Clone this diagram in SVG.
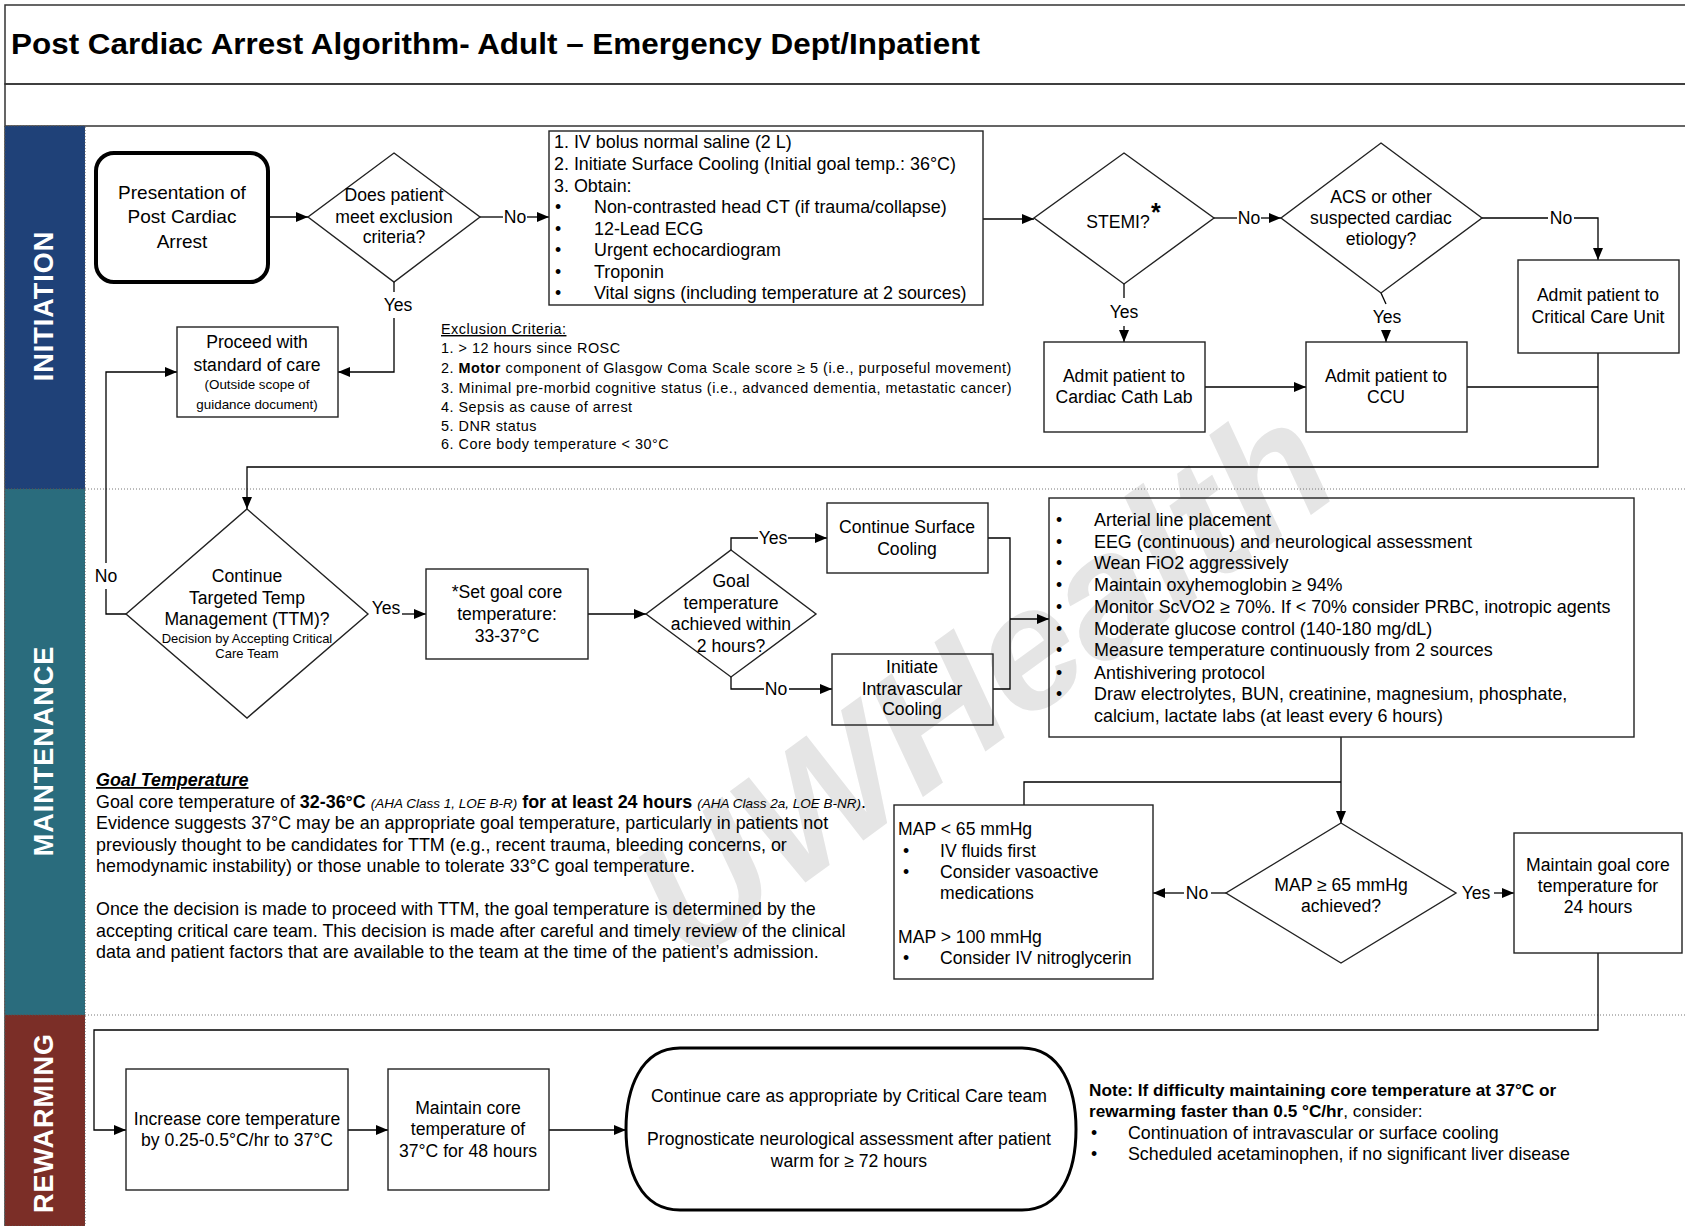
<svg xmlns="http://www.w3.org/2000/svg" width="1685" height="1226" viewBox="0 0 1685 1226">
<style>
text{font-family:"Liberation Sans",Arial,sans-serif;fill:#000}
.t{font-size:17.6px}
.s{font-size:14.4px;letter-spacing:0.5px}
.xs{font-size:13px}
.c{text-anchor:middle}
.b{font-weight:bold}
.g{font-size:17.9px}
.box{fill:none;stroke:#222;stroke-width:1.4}
.ln{fill:none;stroke:#000;stroke-width:1.3}
.lane{font-size:27px;font-weight:bold;fill:#fff;text-anchor:middle;letter-spacing:1px}
.sep{stroke:#777;stroke-width:1;stroke-dasharray:1 2}
</style>
<defs>
<marker id="ah" viewBox="0 0 12 10" refX="12" refY="5" markerWidth="12" markerHeight="10" orient="auto" markerUnits="userSpaceOnUse"><path d="M0,0 L12,5 L0,10 z" fill="#000"/></marker>
</defs>
<rect x="0" y="0" width="1685" height="1226" fill="#fff"/>
<!-- watermark -->
<text x="982" y="740" transform="rotate(-36 982 680)" style="font-size:172px;font-weight:bold;font-style:italic;fill:#e5e5e5" text-anchor="middle">UWHealth</text>

<!-- frame -->
<g id="frame">
<rect x="5" y="5" width="1700" height="79" fill="none" stroke="#333" stroke-width="1.5"/>
<rect x="5" y="84" width="1700" height="42" fill="none" stroke="#333" stroke-width="1.5"/>
<line x1="5" y1="126" x2="5" y2="1226" stroke="#333" stroke-width="1.5"/>
<text x="11" y="54" class="b" style="font-size:29px" textLength="969" lengthAdjust="spacingAndGlyphs">Post Cardiac Arrest Algorithm- Adult – Emergency Dept/Inpatient</text>
</g>
<g id="lanes">
<rect x="5" y="126" width="80" height="363" fill="#1F4178" stroke="#555" stroke-dasharray="1 2"/>
<rect x="5" y="489" width="80" height="526" fill="#2A6C7D" stroke="#555" stroke-dasharray="1 2"/>
<rect x="5" y="1015" width="80" height="211" fill="#7B2E27" stroke="#555" stroke-dasharray="1 2"/>
<line x1="85" y1="489" x2="1685" y2="489" class="sep"/>
<line x1="85" y1="1015" x2="1685" y2="1015" class="sep"/>
<text class="lane" transform="translate(53 306) rotate(-90)">INITIATION</text>
<text class="lane" transform="translate(53 751) rotate(-90)">MAINTENANCE</text>
<text class="lane" transform="translate(53 1123) rotate(-90)">REWARMING</text>
</g>

<!-- connectors -->
<g id="connectors" class="ln">
<line x1="268" y1="217" x2="308" y2="217" marker-end="url(#ah)"/>
<line x1="480" y1="217" x2="503" y2="217"/>
<line x1="527" y1="217" x2="549" y2="217" marker-end="url(#ah)"/>
<polyline points="394,282 394,292"/>
<polyline points="394,318 394,372 338,372" marker-end="url(#ah)"/>
<line x1="983" y1="219" x2="1034" y2="219" marker-end="url(#ah)"/>
<line x1="1214" y1="218" x2="1237" y2="218"/>
<line x1="1261" y1="218" x2="1281" y2="218" marker-end="url(#ah)"/>
<line x1="1482" y1="218" x2="1548" y2="218"/>
<polyline points="1574,218 1598,218 1598,260" marker-end="url(#ah)"/>
<line x1="1124" y1="284" x2="1124" y2="298"/>
<line x1="1124" y1="326" x2="1124" y2="342" marker-end="url(#ah)"/>
<polyline points="1381,293 1386,304"/>
<line x1="1386" y1="330" x2="1386" y2="342" marker-end="url(#ah)"/>
<line x1="1205" y1="387" x2="1306" y2="387" marker-end="url(#ah)"/>
<line x1="1467" y1="387" x2="1598" y2="387"/>
<polyline points="1598,353 1598,467 247,467 247,509" marker-end="url(#ah)"/>
<polyline points="126,614 106,614 106,589"/>
<polyline points="106,563 106,372 177,372" marker-end="url(#ah)"/>
<line x1="402" y1="614" x2="426" y2="614" marker-end="url(#ah)"/>
<line x1="588" y1="614" x2="646" y2="614" marker-end="url(#ah)"/>
<polyline points="731,550 731,538 758,538"/>
<line x1="788" y1="538" x2="827" y2="538" marker-end="url(#ah)"/>
<polyline points="731,677 731,689 764,689"/>
<line x1="789" y1="689" x2="832" y2="689" marker-end="url(#ah)"/>
<polyline points="988,538 1010,538 1010,689 993,689"/>
<line x1="1010" y1="619" x2="1049" y2="619" marker-end="url(#ah)"/>
<line x1="1341" y1="737" x2="1341" y2="823" marker-end="url(#ah)"/>
<polyline points="1024,805 1024,782 1341,782"/>
<line x1="1226" y1="893" x2="1211" y2="893"/>
<line x1="1184" y1="893" x2="1153" y2="893" marker-end="url(#ah)"/>
<line x1="1494" y1="893" x2="1514" y2="893" marker-end="url(#ah)"/>
<polyline points="1598,953 1598,1030 94,1030 94,1130 126,1130" marker-end="url(#ah)"/>
<line x1="348" y1="1130" x2="388" y2="1130" marker-end="url(#ah)"/>
<line x1="549" y1="1130" x2="626" y2="1130" marker-end="url(#ah)"/>
</g>
<g id="labels" class="t">
<text x="515" y="223" class="c t">No</text>
<text x="398" y="311" class="c t">Yes</text>
<text x="1249" y="224" class="c t">No</text>
<text x="1561" y="224" class="c t">No</text>
<text x="1124" y="318" class="c t">Yes</text>
<text x="1387" y="323" class="c t">Yes</text>
<text x="106" y="582" class="c t">No</text>
<text x="386" y="614" class="c t">Yes</text>
<text x="773" y="544" class="c t">Yes</text>
<text x="776" y="695" class="c t">No</text>
<text x="1197" y="899" class="c t">No</text>
<text x="1476" y="899" class="c t">Yes</text>
</g>

<!-- nodes -->
<g id="presentation">
<rect x="96" y="153" width="172" height="129" rx="18" fill="none" stroke="#000" stroke-width="4"/>
<text class="c" style="font-size:19px"><tspan x="182" y="199">Presentation of</tspan><tspan x="182" y="223">Post Cardiac</tspan><tspan x="182" y="248">Arrest</tspan></text>
</g>
<g id="exclusion-decision">
<polygon points="394,153 480,217 394,282 308,217" class="box"/>
<text class="t c"><tspan x="394" y="201">Does patient</tspan><tspan x="394" y="223">meet exclusion</tspan><tspan x="394" y="243">criteria?</tspan></text>
</g>
<g id="initial-orders">
<rect x="549" y="131" width="434" height="174" class="box"/>
<text class="t" style="font-size:17.9px"><tspan x="554" y="148">1. IV bolus normal saline (2 L)</tspan><tspan x="554" y="170">2. Initiate Surface Cooling (Initial goal temp.: 36°C)</tspan><tspan x="554" y="192">3. Obtain:</tspan></text>
<text class="t"><tspan x="555" y="213">•</tspan><tspan x="555" y="235">•</tspan><tspan x="555" y="256">•</tspan><tspan x="555" y="278">•</tspan><tspan x="555" y="299">•</tspan></text>
<text class="t" style="font-size:17.9px"><tspan x="594" y="213">Non-contrasted head CT (if trauma/collapse)</tspan><tspan x="594" y="235">12-Lead ECG</tspan><tspan x="594" y="256">Urgent echocardiogram</tspan><tspan x="594" y="278">Troponin</tspan><tspan x="594" y="299">Vital signs (including temperature at 2 sources)</tspan></text>
</g>
<g id="exclusion-criteria">
<text x="441" y="334" class="s" text-decoration="underline">Exclusion Criteria:</text>
<text class="s"><tspan x="441" y="353">1. &gt; 12 hours since ROSC</tspan><tspan x="441" y="373">2. <tspan class="b">Motor</tspan> component of Glasgow Coma Scale score ≥ 5 (i.e., purposeful movement)</tspan><tspan x="441" y="393">3. Minimal pre-morbid cognitive status (i.e., advanced dementia, metastatic cancer)</tspan><tspan x="441" y="412">4. Sepsis as cause of arrest</tspan><tspan x="441" y="431">5. DNR status</tspan><tspan x="441" y="449">6. Core body temperature &lt; 30°C</tspan></text>
</g>
<g id="proceed">
<rect x="177" y="327" width="161" height="90" class="box"/>
<text class="t c"><tspan x="257" y="348">Proceed with</tspan><tspan x="257" y="371">standard of care</tspan></text>
<text class="c" style="font-size:13.4px"><tspan x="257" y="389">(Outside scope of</tspan><tspan x="257" y="409">guidance document)</tspan></text>
</g>
<g id="stemi">
<polygon points="1124,153 1214,218 1124,284 1034,218" class="box"/>
<text x="1118" y="228" class="t c">STEMI?</text>
<text x="1151" y="221" class="b" style="font-size:25px">*</text>
</g>
<g id="acs">
<polygon points="1381,143 1482,218 1381,293 1281,218" class="box"/>
<text class="t c"><tspan x="1381" y="203">ACS or other</tspan><tspan x="1381" y="224">suspected cardiac</tspan><tspan x="1381" y="245">etiology?</tspan></text>
</g>
<g id="critical-care">
<rect x="1518" y="260" width="161" height="93" class="box"/>
<text class="t c"><tspan x="1598" y="301">Admit patient to</tspan><tspan x="1598" y="323">Critical Care Unit</tspan></text>
</g>
<g id="cath-lab">
<rect x="1044" y="342" width="161" height="90" class="box"/>
<text class="t c"><tspan x="1124" y="382">Admit patient to</tspan><tspan x="1124" y="403">Cardiac Cath Lab</tspan></text>
</g>
<g id="ccu">
<rect x="1306" y="342" width="161" height="90" class="box"/>
<text class="t c"><tspan x="1386" y="382">Admit patient to</tspan><tspan x="1386" y="403">CCU</tspan></text>
</g>
<g id="ttm">
<polygon points="247,509 368,614 247,718 126,614" class="box"/>
<text class="t c"><tspan x="247" y="582">Continue</tspan><tspan x="247" y="604">Targeted Temp</tspan><tspan x="247" y="625">Management (TTM)?</tspan></text>
<text class="xs c"><tspan x="247" y="643">Decision by Accepting Critical</tspan><tspan x="247" y="658">Care Team</tspan></text>
</g>
<g id="set-goal">
<rect x="426" y="569" width="162" height="90" class="box"/>
<text class="t c"><tspan x="507" y="598">*Set goal core</tspan><tspan x="507" y="620">temperature:</tspan><tspan x="507" y="642">33-37°C</tspan></text>
</g>
<g id="goal-achieved">
<polygon points="731,550 816,614 731,677 646,614" class="box"/>
<text class="t c"><tspan x="731" y="587">Goal</tspan><tspan x="731" y="609">temperature</tspan><tspan x="731" y="630">achieved within</tspan><tspan x="731" y="652">2 hours?</tspan></text>
</g>
<g id="surface-cooling">
<rect x="827" y="503" width="161" height="70" class="box"/>
<text class="t c"><tspan x="907" y="533">Continue Surface</tspan><tspan x="907" y="555">Cooling</tspan></text>
</g>
<g id="intravascular">
<rect x="832" y="654" width="161" height="71" class="box"/>
<text class="t c"><tspan x="912" y="673">Initiate</tspan><tspan x="912" y="695">Intravascular</tspan><tspan x="912" y="715">Cooling</tspan></text>
</g>
<g id="maintenance-care">
<rect x="1049" y="498" width="585" height="239" class="box"/>
<text class="t"><tspan x="1056" y="526">•</tspan><tspan x="1056" y="548">•</tspan><tspan x="1056" y="569">•</tspan><tspan x="1056" y="591">•</tspan><tspan x="1056" y="613">•</tspan><tspan x="1056" y="635">•</tspan><tspan x="1056" y="656">•</tspan><tspan x="1056" y="679">•</tspan><tspan x="1056" y="700">•</tspan></text>
<text class="t" style="font-size:17.9px"><tspan x="1094" y="526">Arterial line placement</tspan><tspan x="1094" y="548">EEG (continuous) and neurological assessment</tspan><tspan x="1094" y="569">Wean FiO2 aggressively</tspan><tspan x="1094" y="591">Maintain oxyhemoglobin ≥ 94%</tspan><tspan x="1094" y="613">Monitor ScVO2 ≥ 70%. If &lt; 70% consider PRBC, inotropic agents</tspan><tspan x="1094" y="635">Moderate glucose control (140-180 mg/dL)</tspan><tspan x="1094" y="656">Measure temperature continuously from 2 sources</tspan><tspan x="1094" y="679">Antishivering protocol</tspan><tspan x="1094" y="700">Draw electrolytes, BUN, creatinine, magnesium, phosphate,</tspan><tspan x="1094" y="722">calcium, lactate labs (at least every 6 hours)</tspan></text>
</g>
<g id="goal-temperature-note">
<text x="96" y="786" class="g b" style="font-style:italic" text-decoration="underline">Goal Temperature</text>
<text x="96" y="808" class="g">Goal core temperature of <tspan class="b">32-36°C</tspan> <tspan style="font-size:13.5px;font-style:italic">(AHA Class 1, LOE B-R)</tspan> <tspan class="b">for at least 24 hours</tspan> <tspan style="font-size:13.5px;font-style:italic">(AHA Class 2a, LOE B-NR)</tspan>.</text>
<text class="g"><tspan x="96" y="829">Evidence suggests 37°C may be an appropriate goal temperature, particularly in patients not</tspan><tspan x="96" y="851">previously thought to be candidates for TTM (e.g., recent trauma, bleeding concerns, or</tspan><tspan x="96" y="872">hemodynamic instability) or those unable to tolerate 33°C goal temperature.</tspan><tspan x="96" y="915">Once the decision is made to proceed with TTM, the goal temperature is determined by the</tspan><tspan x="96" y="937">accepting critical care team. This decision is made after careful and timely review of the clinical</tspan><tspan x="96" y="958">data and patient factors that are available to the team at the time of the patient’s admission.</tspan></text>
</g>
<g id="map-management">
<rect x="894" y="805" width="259" height="174" class="box"/>
<text class="t"><tspan x="898" y="835">MAP &lt; 65 mmHg</tspan><tspan x="898" y="943">MAP &gt; 100 mmHg</tspan></text>
<text class="t"><tspan x="903" y="857">•</tspan><tspan x="903" y="878">•</tspan><tspan x="903" y="964">•</tspan></text>
<text class="t"><tspan x="940" y="857">IV fluids first</tspan><tspan x="940" y="878">Consider vasoactive</tspan><tspan x="940" y="899">medications</tspan><tspan x="940" y="964">Consider IV nitroglycerin</tspan></text>
</g>
<g id="map-decision">
<polygon points="1341,823 1456,893 1341,963 1226,893" class="box"/>
<text class="t c"><tspan x="1341" y="891">MAP ≥ 65 mmHg</tspan><tspan x="1341" y="912">achieved?</tspan></text>
</g>
<g id="maintain-goal">
<rect x="1514" y="833" width="168" height="120" class="box"/>
<text class="t c"><tspan x="1598" y="871">Maintain goal core</tspan><tspan x="1598" y="892">temperature for</tspan><tspan x="1598" y="913">24 hours</tspan></text>
</g>
<g id="increase-temp">
<rect x="126" y="1069" width="222" height="121" class="box"/>
<text class="t c"><tspan x="237" y="1125">Increase core temperature</tspan><tspan x="237" y="1146">by 0.25-0.5°C/hr to 37°C</tspan></text>
</g>
<g id="maintain-core">
<rect x="388" y="1069" width="161" height="121" class="box"/>
<text class="t c"><tspan x="468" y="1114">Maintain core</tspan><tspan x="468" y="1135">temperature of</tspan><tspan x="468" y="1157">37°C for 48 hours</tspan></text>
</g>
<g id="continue-care">
<path d="M680,1048 H1022 C1062,1048 1076,1090 1076,1129 C1076,1170 1062,1210 1022,1210 H680 C640,1210 626,1170 626,1129 C626,1090 640,1048 680,1048 Z" fill="none" stroke="#000" stroke-width="3"/>
<text class="t c"><tspan x="849" y="1102">Continue care as appropriate by Critical Care team</tspan><tspan x="849" y="1145">Prognosticate neurological assessment after patient</tspan><tspan x="849" y="1167">warm for ≥ 72 hours</tspan></text>
</g>
<g id="rewarming-note">
<text x="1089" y="1096" class="b" style="font-size:17.2px">Note: If difficulty maintaining core temperature at 37°C or</text>
<text x="1089" y="1117" style="font-size:17.2px"><tspan class="b">rewarming faster than 0.5 °C/hr</tspan>, consider:</text>
<text class="t"><tspan x="1091" y="1139">•</tspan><tspan x="1091" y="1160">•</tspan></text>
<text class="t" style="font-size:17.8px"><tspan x="1128" y="1139">Continuation of intravascular or surface cooling</tspan><tspan x="1128" y="1160">Scheduled acetaminophen, if no significant liver disease</tspan></text>
</g>
</svg>
